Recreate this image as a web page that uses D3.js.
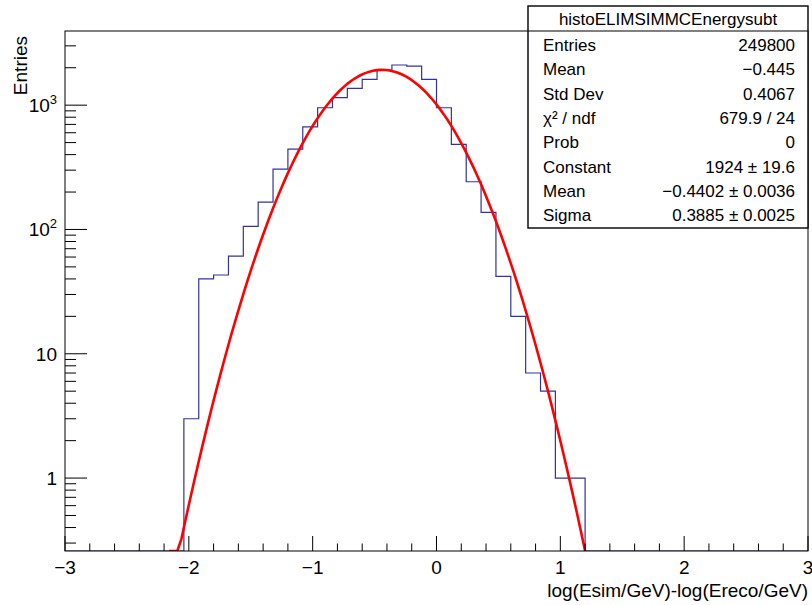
<!DOCTYPE html>
<html>
<head>
<meta charset="utf-8">
<script src="https://cdn.jsdelivr.net/npm/d3@7"></script>
<style>
body { margin: 0; background: #fff; }
text { font-family: "Liberation Sans", Arial, Helvetica, sans-serif; fill: #000; }
</style>
</head>
<body>
<svg id="chart" width="812" height="605"></svg>
<script>
// histogram: 50 bins from -3 to 3
const xRange = [-3, 3];
const nBins = 50;
const counts = [0, 0, 0, 0, 0, 0, 0, 0,
  3, 40, 43, 61, 106, 166, 306, 443, 670, 953, 1148, 1365, 1614, 1915, 2104, 2063,
  1614, 953, 484, 242, 137, 42, 20, 7, 5, 1, 1,
  0, 0, 0, 0, 0, 0, 0, 0, 0, 0, 0, 0, 0, 0, 0];

// gaussian fit
const fitConstant = 1924, fitMean = -0.4402, fitSigma = 0.3885;
const fitRange = [-2.16, 1.2];

const xTicks = [-3, -2, -1, 0, 1, 2, 3];
const yDecades = [0, 1, 2, 3];

const statTitle = 'histoELIMSIMMCEnergysubt';
const statNames = ['Entries', 'Mean', 'Std Dev', 'χ² / ndf', 'Prob', 'Constant', 'Mean', 'Sigma'];
const statValues = ['249800', '\u22120.445', '0.4067', '679.9 / 24', '0', '1924 \u00b1 19.6',
  '\u22120.4402 \u00b1 0.0036', '0.3885 \u00b1 0.0025'];

const fLeft = 65, fRight = 808, fTop = 31, fBottom = 551;
const yDomain = [0.259, 3950];

const svg = d3.select('#chart');
const x = d3.scaleLinear().domain(xRange).range([fLeft, fRight]);
const y = d3.scaleLog().domain(yDomain).range([fBottom, fTop]);
const yc = v => y(Math.max(v, yDomain[0]));

svg.append('defs').append('clipPath').attr('id', 'frame')
  .append('rect').attr('x', fLeft).attr('y', fTop).attr('width', fRight - fLeft).attr('height', fBottom - fTop);

// histogram outline
const bw = (xRange[1] - xRange[0]) / nBins;
const hist = d3.path();
counts.forEach((c, i) => {
  const x0 = x(xRange[0] + i * bw), x1 = x(xRange[0] + (i + 1) * bw);
  if (i === 0) hist.moveTo(x0, yc(c)); else hist.lineTo(x0, yc(c));
  hist.lineTo(x1, yc(c));
});
svg.append('path').attr('d', hist.toString())
  .attr('fill', 'none').attr('stroke', '#333399').attr('stroke-width', 1.2)
  .attr('clip-path', 'url(#frame)');

// fit curve
const gaus = d3.range(101).map(k => {
  const xv = fitRange[0] + k * (fitRange[1] - fitRange[0]) / 100;
  return [xv, fitConstant * Math.exp(-0.5 * Math.pow((xv - fitMean) / fitSigma, 2))];
});
svg.append('path').datum(gaus)
  .attr('d', d3.line().x(d => x(d[0])).y(d => yc(d[1])))
  .attr('fill', 'none').attr('stroke', '#ff0000').attr('stroke-width', 2.6)
  .attr('clip-path', 'url(#frame)');

// frame
svg.append('rect').attr('x', fLeft).attr('y', fTop).attr('width', fRight - fLeft).attr('height', fBottom - fTop)
  .attr('fill', 'none').attr('stroke', '#000').attr('stroke-width', 1);

// x axis ticks
const g = svg.append('g').attr('stroke', '#000').attr('stroke-width', 1);
d3.range(0, 31).forEach(k => {
  const xv = xRange[0] + k * 0.2;
  const len = k % 5 === 0 ? 15 : 7.5;
  g.append('line').attr('x1', x(xv)).attr('x2', x(xv)).attr('y1', fBottom).attr('y2', fBottom - len);
});
svg.selectAll('.xl').data(xTicks).enter().append('text')
  .attr('x', d => x(d)).attr('y', fBottom + 23)
  .attr('text-anchor', 'middle').attr('font-size', 19)
  .text(d => d < 0 ? '\u2212' + Math.abs(d) : d);

// y axis ticks
yDecades.concat([-1]).forEach(e => {
  d3.range(1, 10).forEach(m => {
    const v = m * Math.pow(10, e);
    if (v < yDomain[0] || v > yDomain[1]) return;
    const len = m === 1 ? 22 : 11;
    g.append('line').attr('x1', fLeft).attr('x2', fLeft + len).attr('y1', y(v)).attr('y2', y(v));
  });
});
yDecades.forEach(e => {
  const t = svg.append('text').attr('x', 57).attr('y', y(Math.pow(10, e)) + 7)
    .attr('text-anchor', 'end').attr('font-size', 19);
  if (e === 0) t.text('1');
  else if (e === 1) t.text('10');
  else {
    t.append('tspan').text('10');
    t.append('tspan').attr('dy', -8).attr('font-size', 13).text(e);
  }
});

// axis titles
svg.append('text').attr('x', fRight).attr('y', 597).attr('text-anchor', 'end').attr('font-size', 19)
  .text('log(Esim/GeV)-log(Ereco/GeV)');
svg.append('text').attr('transform', `translate(27,${fTop + 5}) rotate(-90)`)
  .attr('text-anchor', 'end').attr('font-size', 19).text('Entries');

// stats box
const bx0 = 528, bx1 = 808, by0 = 6, by1 = 228, sep = 31;
svg.append('rect').attr('x', bx0).attr('y', by0).attr('width', bx1 - bx0).attr('height', by1 - by0)
  .attr('fill', '#fff').attr('stroke', '#000').attr('stroke-width', 1.4);
svg.append('line').attr('x1', bx0).attr('x2', bx1).attr('y1', sep).attr('y2', sep)
  .attr('stroke', '#000').attr('stroke-width', 1.2);
svg.append('text').attr('x', (bx0 + bx1) / 2).attr('y', 25).attr('text-anchor', 'middle')
  .attr('font-size', 17).text(statTitle);
statNames.forEach((n, i) => {
  const yy = 51 + i * 24.3;
  svg.append('text').attr('x', 543).attr('y', yy).attr('font-size', 17).text(n);
  svg.append('text').attr('x', 795).attr('y', yy).attr('text-anchor', 'end').attr('font-size', 17)
    .text(statValues[i]);
});
</script>
</body>
</html>
